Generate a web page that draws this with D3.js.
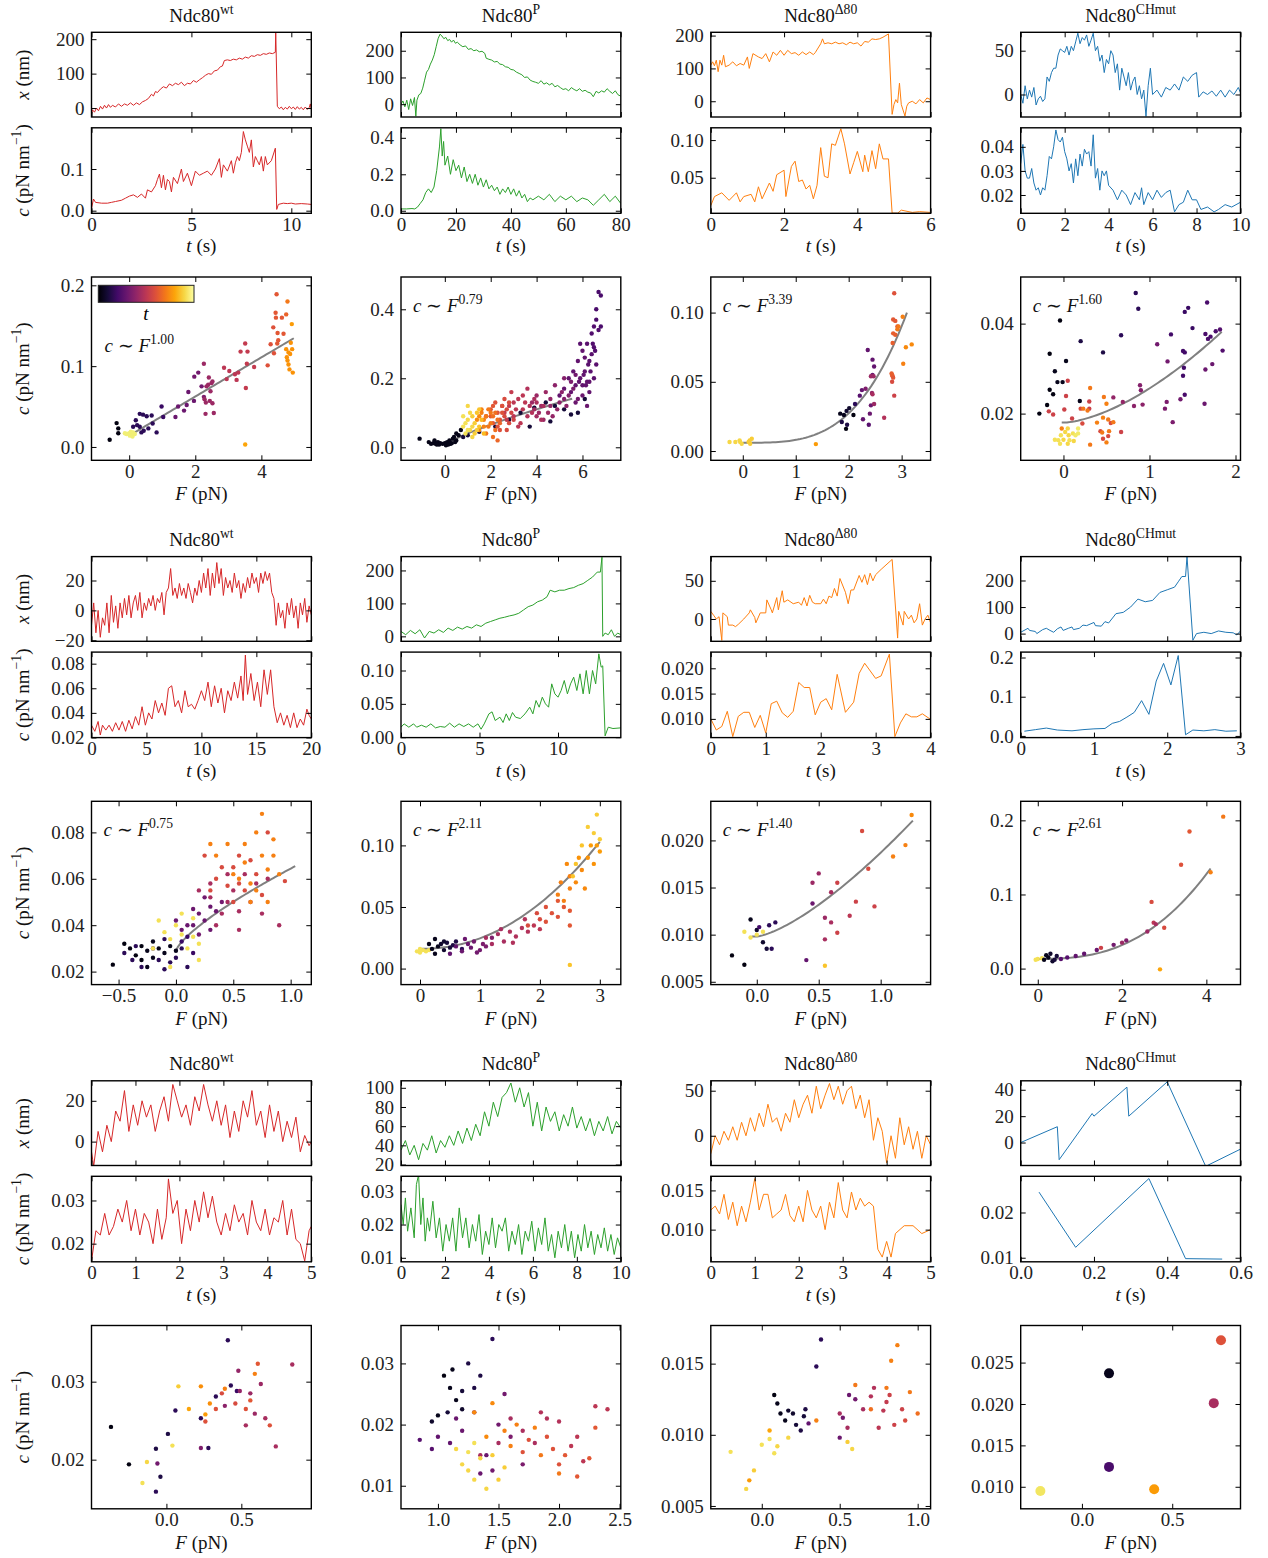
<!DOCTYPE html>
<html>
<head>
<meta charset="utf-8">
<script src="https://cdn.jsdelivr.net/npm/d3@7"></script>
<style>
body { margin: 0; background: #fff; }
svg { display: block; }
text { white-space: pre; }
</style>
</head>
<body>
<div id="wrapper"></div>
<script>
const FONT = "'Liberation Serif', 'Times New Roman', serif"
const titles = ['wt', 'P', '\u039480', 'CHmut']
const lineColors = ['#d62728', '#2ca02c', '#ff7f0e', '#1f77b4']

// ---------- block 1 traces: [t (s), value]
const b1wtX = [[0,-20],[0.05,-5],[0.15,-12],[0.25,0],[0.35,-8],[0.45,5],[0.55,-3],[0.65,8],[0.75,0],[0.85,10],[0.95,2],[1.05,8],[1.2,3],[1.35,12],[1.5,5],[1.65,12],[1.8,8],[1.95,15],[2.1,8],[2.25,15],[2.4,10],[2.55,18],[2.7,22],[2.85,28],[3.0,40],[3.1,35],[3.2,48],[3.3,45],[3.45,55],[3.6,62],[3.75,58],[3.9,70],[4.05,65],[4.2,72],[4.35,68],[4.5,75],[4.65,65],[4.8,72],[4.95,70],[5.1,80],[5.25,75],[5.4,82],[5.55,88],[5.7,95],[5.85,100],[6.0,98],[6.15,108],[6.3,110],[6.45,120],[6.55,122],[6.65,138],[6.8,140],[6.95,138],[7.1,142],[7.25,140],[7.4,145],[7.55,142],[7.7,148],[7.85,145],[8.0,152],[8.15,150],[8.3,155],[8.45,153],[8.6,158],[8.75,156],[8.9,160],[9.05,158],[9.2,162],[9.22,222],[9.3,5],[9.4,-2],[9.5,3],[9.6,-5],[9.7,2],[9.8,-3],[9.9,5],[10.0,-2],[10.1,3],[10.2,-4],[10.3,4],[10.4,-3],[10.5,2],[10.6,-5],[10.7,3],[10.8,-4],[10.9,2],[10.95,12],[11,-3]]
const b1wtC = [[0,0.005],[0.1,0.028],[0.2,0.02],[0.5,0.018],[0.8,0.018],[1.0,0.02],[1.2,0.022],[1.5,0.025],[1.7,0.03],[1.9,0.035],[2.1,0.038],[2.3,0.032],[2.5,0.04],[2.7,0.03],[2.8,0.05],[3.0,0.045],[3.2,0.06],[3.3,0.075],[3.4,0.088],[3.5,0.055],[3.6,0.085],[3.7,0.05],[3.8,0.075],[3.9,0.07],[4.0,0.045],[4.1,0.08],[4.3,0.065],[4.5,0.1],[4.6,0.07],[4.8,0.09],[5.0,0.06],[5.2,0.095],[5.4,0.085],[5.6,0.09],[5.8,0.095],[6.0,0.085],[6.2,0.1],[6.4,0.125],[6.5,0.08],[6.6,0.11],[6.8,0.095],[7.0,0.12],[7.1,0.09],[7.2,0.115],[7.3,0.13],[7.4,0.12],[7.5,0.14],[7.6,0.19],[7.7,0.17],[7.8,0.155],[7.9,0.14],[8.0,0.17],[8.1,0.105],[8.2,0.13],[8.3,0.12],[8.4,0.11],[8.5,0.13],[8.6,0.095],[8.7,0.13],[8.8,0.11],[9.0,0.12],[9.2,0.15],[9.27,0.003],[9.35,0.015],[9.6,0.018],[9.8,0.017],[10.0,0.018],[10.2,0.016],[10.5,0.017],[10.8,0.016],[11,0.015]]
const b1pX = [[0,0],[0.7,12],[1.4,-10],[2.1,15],[2.8,-20],[3.5,20],[4.2,-5],[4.9,25],[5.4,-45],[5.8,15],[6.5,35],[7.2,40],[7.9,60],[8.6,90],[9.3,120],[10,130],[10.7,150],[11.4,165],[12.1,185],[12.8,215],[13.5,245],[14.2,262],[14.9,255],[15.6,245],[16.3,250],[17,238],[17.7,242],[18.4,232],[19.1,240],[19.8,228],[20.5,232],[21.5,222],[22.5,215],[23.5,218],[24.5,205],[25.5,208],[26.5,200],[27.5,203],[28.5,196],[29.5,198],[30.5,190],[31,172],[32,168],[33,165],[34,158],[35,160],[36,150],[37,148],[38,140],[39,138],[40,130],[41,128],[42,120],[43,115],[44,110],[45,100],[46,102],[47,90],[48,85],[49,82],[50,78],[51,88],[52,75],[53,80],[54,72],[55,78],[56,65],[57,70],[58,62],[59,55],[60,58],[61,50],[62,62],[63,55],[64,50],[65,58],[66,48],[67,52],[68,45],[69,42],[70,28],[71,48],[72,42],[73,50],[74,45],[75,58],[76,48],[77,40],[78,50],[79,35],[80,30]]
const b1pC = [[0,0.01],[2,0.01],[4,0.012],[5,0.01],[6,0.02],[7,0.04],[8,0.06],[9,0.1],[10,0.12],[11,0.1],[12,0.13],[13,0.22],[14,0.35],[14.5,0.45],[15,0.3],[15.5,0.38],[16,0.25],[17,0.3],[18,0.2],[19,0.28],[20,0.22],[21,0.25],[22,0.18],[23,0.24],[24,0.16],[25,0.2],[26,0.15],[27,0.2],[28,0.14],[29,0.18],[30,0.13],[31,0.17],[32,0.12],[33,0.14],[34,0.11],[35,0.13],[36,0.09],[37,0.12],[38,0.1],[39,0.13],[40,0.09],[41,0.12],[42,0.08],[43,0.11],[44,0.07],[45,0.09],[46,0.05],[47,0.07],[48,0.06],[50,0.08],[52,0.06],[54,0.09],[56,0.05],[58,0.08],[60,0.06],[62,0.08],[64,0.05],[66,0.07],[68,0.06],[70,0.03],[72,0.06],[74,0.09],[76,0.05],[78,0.08],[80,0.04]]
const b1dX = [[0,110],[0.05,120],[0.1,108],[0.15,125],[0.2,90],[0.25,125],[0.3,110],[0.35,140],[0.4,105],[0.5,110],[0.6,120],[0.7,108],[0.8,115],[0.9,110],[1.0,135],[1.05,100],[1.15,145],[1.3,135],[1.4,130],[1.5,145],[1.6,120],[1.7,150],[1.8,140],[1.9,155],[2.0,140],[2.1,155],[2.2,145],[2.3,148],[2.4,140],[2.5,150],[2.6,142],[2.7,150],[2.8,142],[2.85,148],[3.0,175],[3.05,190],[3.1,175],[3.2,178],[3.3,175],[3.4,180],[3.5,175],[3.6,178],[3.7,172],[3.8,180],[3.9,175],[4.0,178],[4.1,168],[4.2,182],[4.3,180],[4.4,190],[4.5,188],[4.6,190],[4.7,195],[4.85,205],[4.95,-40],[5.0,-10],[5.05,5],[5.1,-5],[5.15,55],[5.2,-10],[5.3,-45],[5.35,-15],[5.4,-5],[5.5,0],[5.6,-8],[5.7,5],[5.8,-5],[5.9,10],[6.0,5]]
const b1dC = [[0,0.013],[0.1,0.025],[0.3,0.03],[0.5,0.02],[0.7,0.03],[0.8,0.018],[0.9,0.025],[1.1,0.028],[1.2,0.018],[1.3,0.038],[1.4,0.022],[1.6,0.043],[1.7,0.032],[1.8,0.054],[2.0,0.06],[2.05,0.025],[2.2,0.065],[2.3,0.072],[2.4,0.045],[2.5,0.047],[2.6,0.035],[2.7,0.04],[2.8,0.022],[2.9,0.04],[3.0,0.09],[3.1,0.052],[3.2,0.05],[3.3,0.095],[3.4,0.093],[3.55,0.115],[3.65,0.095],[3.8,0.055],[3.9,0.07],[4.0,0.085],[4.15,0.058],[4.2,0.08],[4.3,0.058],[4.4,0.086],[4.5,0.062],[4.6,0.095],[4.7,0.075],[4.85,0.075],[4.95,0.003],[5.1,0.003],[5.2,0.007],[5.5,0.004],[5.7,0.005],[6.0,0.004]]
const b1mX = [[0,0],[0.1,-10],[0.2,10],[0.3,-5],[0.4,5],[0.5,-3],[0.6,8],[0.7,-12],[0.8,-5],[0.9,-2],[1.0,-8],[1.1,-5],[1.2,20],[1.3,15],[1.4,25],[1.5,30],[1.6,30],[1.7,45],[1.8,52],[1.9,50],[2.0,48],[2.1,55],[2.2,45],[2.3,55],[2.4,50],[2.5,60],[2.6,70],[2.7,58],[2.8,65],[2.9,62],[3.0,68],[3.1,55],[3.2,62],[3.3,70],[3.4,50],[3.5,55],[3.6,38],[3.7,45],[3.8,25],[3.9,40],[4.0,35],[4.1,50],[4.2,45],[4.3,25],[4.4,35],[4.5,5],[4.6,30],[4.7,20],[4.8,10],[4.9,25],[5.0,5],[5.1,15],[5.2,20],[5.3,0],[5.4,10],[5.5,-5],[5.6,5],[5.7,-25],[5.8,10],[5.9,30],[6.0,0],[6.2,5],[6.4,-3],[6.6,8],[6.8,5],[7.0,12],[7.2,5],[7.4,20],[7.6,15],[7.8,22],[8.0,25],[8.1,-3],[8.3,3],[8.5,0],[8.7,4],[8.9,-2],[9.1,5],[9.3,-3],[9.5,5],[9.7,0],[9.9,8],[10,2]]
const b1mC = [[0,0.033],[0.1,0.041],[0.2,0.03],[0.3,0.027],[0.4,0.027],[0.5,0.031],[0.6,0.025],[0.7,0.022],[0.8,0.023],[0.9,0.02],[1.0,0.023],[1.1,0.022],[1.2,0.028],[1.3,0.036],[1.4,0.035],[1.5,0.04],[1.6,0.047],[1.7,0.043],[1.8,0.042],[1.9,0.044],[2.0,0.038],[2.1,0.035],[2.2,0.03],[2.3,0.033],[2.4,0.025],[2.5,0.035],[2.6,0.028],[2.7,0.037],[2.8,0.032],[2.9,0.039],[3.0,0.037],[3.1,0.038],[3.2,0.032],[3.3,0.045],[3.4,0.027],[3.5,0.031],[3.6,0.022],[3.7,0.03],[3.8,0.028],[3.9,0.03],[4.0,0.024],[4.2,0.022],[4.4,0.018],[4.6,0.022],[4.8,0.02],[5.0,0.016],[5.2,0.021],[5.4,0.018],[5.5,0.023],[5.6,0.016],[5.8,0.021],[6.0,0.018],[6.2,0.022],[6.4,0.019],[6.6,0.021],[6.8,0.022],[7.0,0.013],[7.2,0.016],[7.4,0.017],[7.6,0.022],[7.8,0.018],[8.0,0.018],[8.2,0.014],[8.5,0.015],[8.8,0.013],[9.0,0.014],[9.3,0.016],[9.6,0.015],[10,0.017]]

// ---------- block 2 traces
const b2wtX = [[0,-10],[0.2,5],[0.4,-15],[0.6,0],[0.8,-18],[1.0,-5],[1.2,-10],[1.4,5],[1.6,-15],[1.8,10],[2.0,-8],[2.2,3],[2.4,-12],[2.6,5],[2.8,-5],[3.0,8],[3.2,-3],[3.4,10],[3.6,-5],[3.8,5],[4.0,10],[4.2,0],[4.4,12],[4.6,-5],[4.8,5],[5.0,0],[5.2,8],[5.4,3],[5.6,10],[5.8,0],[6.0,8],[6.2,5],[6.4,12],[6.6,-3],[6.8,12],[7.0,15],[7.2,28],[7.4,10],[7.6,15],[7.8,8],[8.0,18],[8.2,10],[8.4,15],[8.6,8],[8.8,18],[9.0,12],[9.2,5],[9.4,15],[9.6,10],[9.8,20],[10.0,12],[10.2,25],[10.4,15],[10.6,28],[10.8,10],[11.0,25],[11.2,15],[11.4,32],[11.6,18],[11.8,28],[12.0,10],[12.2,22],[12.4,15],[12.6,20],[12.8,12],[13.0,25],[13.2,15],[13.4,20],[13.6,8],[13.8,18],[14.0,12],[14.2,22],[14.4,15],[14.6,25],[14.8,18],[15.0,22],[15.2,12],[15.4,25],[15.6,18],[15.8,26],[16.0,20],[16.2,25],[16.4,12],[16.6,8],[16.8,-10],[17.0,5],[17.2,-5],[17.4,0],[17.6,-12],[17.8,5],[18.0,-3],[18.2,8],[18.4,-5],[18.6,3],[18.8,-12],[19.0,5],[19.2,-3],[19.4,8],[19.6,-8],[19.8,3],[20,-3]]
const b2wtC = [[0,0.03],[0.3,0.025],[0.6,0.033],[0.8,0.022],[1.0,0.03],[1.3,0.026],[1.6,0.03],[1.9,0.025],[2.2,0.032],[2.5,0.026],[2.8,0.033],[3.1,0.025],[3.4,0.034],[3.7,0.027],[4.0,0.037],[4.3,0.03],[4.6,0.045],[4.9,0.03],[5.2,0.04],[5.5,0.035],[5.8,0.05],[6.1,0.04],[6.4,0.048],[6.7,0.038],[7.0,0.06],[7.3,0.062],[7.6,0.045],[7.9,0.05],[8.2,0.04],[8.5,0.058],[8.8,0.045],[9.1,0.047],[9.4,0.043],[9.7,0.05],[10.0,0.058],[10.3,0.05],[10.6,0.065],[10.9,0.045],[11.2,0.062],[11.5,0.048],[11.8,0.06],[12.1,0.04],[12.4,0.058],[12.7,0.05],[13.0,0.065],[13.3,0.052],[13.6,0.07],[13.8,0.05],[14.0,0.087],[14.2,0.055],[14.5,0.072],[14.8,0.05],[15.1,0.065],[15.4,0.045],[15.7,0.075],[16.0,0.055],[16.3,0.075],[16.6,0.045],[16.9,0.032],[17.2,0.04],[17.5,0.03],[17.8,0.038],[18.1,0.028],[18.4,0.04],[18.7,0.028],[19.0,0.035],[19.3,0.03],[19.6,0.043],[19.8,0.038],[20,0.035]]
const b2pX = [[0,15],[0.3,5],[0.6,18],[0.9,8],[1.2,20],[1.5,-5],[1.8,15],[2.1,10],[2.4,20],[2.7,12],[3.0,25],[3.3,18],[3.6,28],[3.9,22],[4.2,30],[4.5,25],[4.8,35],[5.1,30],[5.4,40],[5.7,45],[6.0,50],[6.3,55],[6.6,58],[6.9,62],[7.2,65],[7.5,70],[7.8,80],[8.1,90],[8.4,95],[8.7,105],[9.0,110],[9.3,120],[9.5,140],[9.8,135],[10.1,140],[10.4,140],[10.7,145],[11.0,148],[11.3,155],[11.6,160],[11.9,170],[12.2,180],[12.5,195],[12.7,195],[12.8,240],[12.85,0],[13.0,10],[13.2,5],[13.4,20],[13.6,0],[13.8,10],[14,5]]
const b2pC = [[0,0.015],[0.2,0.02],[0.5,0.015],[0.8,0.02],[1.0,0.015],[1.3,0.018],[1.6,0.015],[1.9,0.02],[2.2,0.014],[2.5,0.016],[2.8,0.015],[3.1,0.021],[3.4,0.015],[3.7,0.02],[4.0,0.016],[4.3,0.02],[4.6,0.015],[4.9,0.02],[5.1,0.012],[5.3,0.02],[5.6,0.035],[5.8,0.038],[6.0,0.025],[6.3,0.03],[6.5,0.022],[6.7,0.035],[6.9,0.025],[7.1,0.037],[7.3,0.03],[7.6,0.028],[7.9,0.035],[8.2,0.045],[8.4,0.035],[8.6,0.055],[8.8,0.045],[9.0,0.06],[9.2,0.05],[9.4,0.045],[9.6,0.08],[9.8,0.065],[10.0,0.06],[10.2,0.07],[10.4,0.085],[10.6,0.065],[10.8,0.08],[11.0,0.09],[11.2,0.07],[11.4,0.095],[11.6,0.065],[11.8,0.1],[12.0,0.065],[12.2,0.1],[12.4,0.08],[12.6,0.125],[12.75,0.105],[12.85,0.107],[13.0,0.002],[13.2,0.015],[13.5,0.013],[14,0.014]]
const b2dX = [[0,10],[0.05,5],[0.1,0],[0.15,3],[0.2,-28],[0.22,8],[0.3,3],[0.32,-8],[0.4,-8],[0.45,-10],[0.5,-7],[0.6,0],[0.7,8],[0.72,12],[0.8,2],[0.82,-5],[0.9,8],[1.0,8],[1.02,25],[1.1,12],[1.12,8],[1.2,28],[1.23,12],[1.3,37],[1.33,22],[1.4,25],[1.5,20],[1.6,22],[1.65,18],[1.7,28],[1.75,17],[1.8,31],[1.85,22],[1.9,20],[2.0,20],[2.05,26],[2.1,20],[2.15,30],[2.2,28],[2.25,40],[2.3,30],[2.35,53],[2.45,35],[2.5,20],[2.55,38],[2.6,38],[2.7,57],[2.75,48],[2.8,58],[2.85,45],[2.9,60],[2.95,50],[3.0,58],[3.1,65],[3.3,78],[3.4,-25],[3.42,10],[3.5,-8],[3.52,10],[3.6,0],[3.65,5],[3.7,-5],[3.75,0],[3.8,20],[3.85,-8],[3.9,0],[3.95,5],[4.0,-5]]
const b2dC = [[0,0.010],[0.1,0.0078],[0.2,0.0085],[0.3,0.0115],[0.4,0.0065],[0.5,0.0105],[0.6,0.0113],[0.7,0.0113],[0.8,0.0083],[0.9,0.0107],[1.0,0.0072],[1.1,0.013],[1.2,0.0135],[1.3,0.0112],[1.4,0.0103],[1.5,0.0115],[1.6,0.0172],[1.7,0.0162],[1.8,0.0162],[1.9,0.0108],[2.0,0.0133],[2.1,0.014],[2.2,0.0118],[2.3,0.0188],[2.45,0.0113],[2.6,0.0133],[2.7,0.019],[2.8,0.021],[3.0,0.018],[3.1,0.0185],[3.25,0.0228],[3.35,0.0065],[3.45,0.0092],[3.55,0.011],[3.65,0.0104],[3.75,0.0104],[3.85,0.011],[4.0,0.0099]]
const b2mX = [[0,5],[0.1,20],[0.12,12],[0.2,8],[0.22,0],[0.3,15],[0.35,20],[0.4,12],[0.45,5],[0.5,18],[0.55,25],[0.58,12],[0.65,20],[0.7,25],[0.72,15],[0.8,20],[0.85,32],[0.9,30],[1.0,42],[1.02,30],[1.1,28],[1.15,45],[1.2,40],[1.3,75],[1.4,80],[1.5,100],[1.6,130],[1.7,120],[1.8,125],[1.9,155],[2.0,165],[2.1,175],[2.15,195],[2.2,215],[2.25,215],[2.27,290],[2.35,-25],[2.4,0],[2.5,5],[2.6,0],[2.7,10],[2.8,5],[2.9,3],[2.95,-5],[3.0,10]]
const b2mC = [[0.05,0.012],[0.2,0.016],[0.35,0.02],[0.5,0.015],[0.7,0.013],[0.85,0.016],[1.0,0.018],[1.15,0.019],[1.25,0.032],[1.35,0.037],[1.45,0.048],[1.55,0.06],[1.65,0.09],[1.75,0.055],[1.85,0.14],[1.95,0.185],[2.05,0.13],[2.15,0.205],[2.25,0.003],[2.35,0.015],[2.5,0.013],[2.65,0.016],[2.8,0.012],[2.95,0.013]]

// ---------- block 3 traces
const b3wtX = [[0,-5],[0.05,-12],[0.15,5],[0.25,-5],[0.35,8],[0.45,0],[0.55,15],[0.65,10],[0.75,25],[0.85,5],[0.95,18],[1.05,8],[1.15,20],[1.25,12],[1.35,18],[1.45,5],[1.55,15],[1.65,22],[1.75,10],[1.85,28],[1.95,20],[2.05,12],[2.15,18],[2.25,8],[2.35,22],[2.45,15],[2.55,28],[2.65,18],[2.75,10],[2.85,20],[2.95,8],[3.05,18],[3.15,2],[3.25,15],[3.35,5],[3.45,20],[3.55,12],[3.65,25],[3.75,8],[3.85,15],[3.95,2],[4.05,18],[4.15,5],[4.25,15],[4.35,0],[4.45,10],[4.55,2],[4.65,12],[4.75,-5],[4.85,3],[4.95,-2],[5.0,0]]
const b3wtC = [[0,0.016],[0.1,0.023],[0.2,0.022],[0.3,0.027],[0.4,0.022],[0.5,0.024],[0.6,0.028],[0.7,0.025],[0.8,0.03],[0.9,0.023],[1.0,0.028],[1.1,0.022],[1.2,0.027],[1.3,0.025],[1.4,0.02],[1.5,0.028],[1.6,0.021],[1.7,0.026],[1.75,0.035],[1.85,0.027],[1.95,0.03],[2.05,0.02],[2.15,0.028],[2.25,0.023],[2.35,0.03],[2.45,0.025],[2.55,0.032],[2.65,0.026],[2.75,0.031],[2.85,0.025],[2.95,0.022],[3.05,0.027],[3.15,0.023],[3.25,0.029],[3.35,0.025],[3.45,0.027],[3.55,0.022],[3.65,0.03],[3.75,0.025],[3.85,0.023],[3.95,0.028],[4.05,0.022],[4.15,0.026],[4.25,0.025],[4.35,0.03],[4.45,0.022],[4.55,0.028],[4.65,0.021],[4.75,0.02],[4.85,0.016],[4.95,0.023],[5.0,0.024]]
const b3pX = [[0,35],[0.2,45],[0.4,30],[0.6,40],[0.8,25],[1.0,42],[1.2,35],[1.4,50],[1.6,32],[1.8,45],[2.0,38],[2.2,50],[2.4,40],[2.6,55],[2.8,42],[3.0,58],[3.2,45],[3.4,62],[3.6,50],[3.8,75],[4.0,60],[4.2,85],[4.4,70],[4.6,90],[4.8,95],[5.0,105],[5.2,85],[5.4,100],[5.6,80],[5.8,95],[6.0,60],[6.2,85],[6.4,55],[6.6,80],[6.8,65],[7.0,75],[7.2,55],[7.4,72],[7.6,60],[7.8,80],[8.0,58],[8.2,70],[8.4,55],[8.6,68],[8.8,50],[9.0,65],[9.2,55],[9.4,70],[9.6,52],[9.8,65],[10,58]]
const b3pC = [[0,0.026],[0.1,0.02],[0.2,0.028],[0.3,0.018],[0.45,0.025],[0.6,0.016],[0.7,0.032],[0.8,0.035],[0.9,0.02],[1.0,0.028],[1.1,0.015],[1.2,0.022],[1.3,0.018],[1.45,0.027],[1.6,0.016],[1.75,0.022],[1.9,0.012],[2.05,0.02],[2.2,0.015],[2.35,0.022],[2.5,0.012],[2.65,0.025],[2.8,0.016],[2.95,0.022],[3.1,0.013],[3.25,0.02],[3.4,0.015],[3.55,0.023],[3.7,0.011],[3.85,0.018],[4.0,0.014],[4.15,0.022],[4.3,0.013],[4.45,0.02],[4.6,0.018],[4.75,0.022],[4.9,0.012],[5.05,0.018],[5.2,0.014],[5.35,0.02],[5.5,0.011],[5.65,0.018],[5.8,0.015],[5.95,0.021],[6.1,0.012],[6.25,0.019],[6.4,0.014],[6.55,0.022],[6.7,0.012],[6.85,0.017],[7.0,0.01],[7.15,0.018],[7.3,0.013],[7.45,0.02],[7.6,0.012],[7.75,0.018],[7.9,0.01],[8.05,0.017],[8.2,0.012],[8.35,0.02],[8.5,0.013],[8.65,0.018],[8.8,0.011],[8.95,0.017],[9.1,0.013],[9.25,0.019],[9.4,0.012],[9.55,0.017],[9.7,0.011],[9.85,0.016],[10,0.013]]
const b3dX = [[0,-20],[0.1,0],[0.2,-10],[0.3,5],[0.4,-5],[0.5,10],[0.6,-5],[0.7,15],[0.8,0],[0.9,20],[1.0,5],[1.1,25],[1.2,10],[1.3,35],[1.4,15],[1.5,20],[1.6,5],[1.7,25],[1.8,15],[1.9,40],[2.0,20],[2.1,35],[2.2,45],[2.3,25],[2.4,55],[2.5,30],[2.6,45],[2.7,58],[2.8,40],[2.9,55],[3.0,35],[3.1,50],[3.2,55],[3.3,30],[3.4,45],[3.5,20],[3.6,40],[3.7,-5],[3.8,20],[3.9,5],[4.0,-30],[4.1,0],[4.2,-25],[4.3,20],[4.4,-10],[4.5,10],[4.6,-15],[4.7,5],[4.8,-25],[4.9,0],[5.0,-10]]
const b3dC = [[0,0.0125],[0.1,0.013],[0.2,0.012],[0.3,0.0145],[0.4,0.0113],[0.5,0.0135],[0.6,0.0105],[0.7,0.013],[0.8,0.011],[0.9,0.0135],[1.0,0.0165],[1.1,0.0125],[1.2,0.0145],[1.3,0.0145],[1.4,0.0115],[1.5,0.012],[1.6,0.0125],[1.7,0.0145],[1.8,0.0118],[1.9,0.011],[2.0,0.013],[2.1,0.011],[2.2,0.015],[2.3,0.0125],[2.4,0.0115],[2.5,0.013],[2.6,0.01],[2.7,0.0135],[2.8,0.0115],[2.9,0.016],[3.0,0.0125],[3.1,0.0115],[3.2,0.0148],[3.3,0.0125],[3.4,0.014],[3.5,0.013],[3.6,0.0135],[3.7,0.013],[3.8,0.0075],[3.9,0.0065],[4.0,0.0085],[4.1,0.0065],[4.2,0.0095],[4.4,0.0105],[4.6,0.0105],[4.8,0.0095],[5.0,0.01]]
const b3mX = [[0,0],[0.1,12],[0.105,-13],[0.195,22],[0.2,20],[0.29,42],[0.295,20],[0.4,46],[0.505,-18],[0.6,-5]]
const b3mC = [[0.05,0.0245],[0.15,0.0123],[0.35,0.0275],[0.45,0.0098],[0.55,0.0097]]

// ---------- scatter data: [F (pN), c (pN/nm), t (fraction of trace)]
const b1wtS = [[-0.59,0.009,0.03],[-0.38,0.0295,0.03],[-0.33,0.023,0.03],[-0.33,0.017,0.03],[0.12,0.025,0.15],[0.2,0.033,0.15],[0.32,0.041,0.15],[0.42,0.04,0.15],[0.53,0.038,0.15],[0.68,0.039,0.15],[0.32,0.025,0.15],[0.44,0.02,0.15],[0.58,0.023,0.15],[0.71,0.029,0.15],[0.83,0.018,0.15],[0.98,0.05,0.18],[1.03,0.037,0.18],[0.24,0.027,0.15],[0.37,0.018,0.15],[1.4,0.037,0.3],[1.48,0.05,0.3],[1.66,0.045,0.3],[1.74,0.052,0.3],[1.79,0.068,0.3],[1.96,0.057,0.3],[1.97,0.087,0.32],[2.09,0.092,0.32],[2.19,0.075,0.32],[2.26,0.062,0.35],[2.26,0.103,0.42],[2.28,0.059,0.42],[2.32,0.055,0.42],[2.34,0.075,0.42],[2.39,0.077,0.42],[2.41,0.086,0.42],[2.44,0.057,0.42],[2.46,0.069,0.42],[2.49,0.079,0.42],[2.52,0.081,0.42],[2.31,0.041,0.42],[2.52,0.054,0.42],[2.56,0.042,0.42],[2.87,0.098,0.5],[2.95,0.084,0.5],[3.03,0.094,0.5],[3.2,0.09,0.5],[3.25,0.083,0.5],[3.3,0.092,0.5],[3.37,0.118,0.52],[3.51,0.128,0.52],[3.53,0.073,0.52],[3.58,0.118,0.52],[3.56,0.103,0.52],[3.78,0.099,0.52],[4.19,0.101,0.6],[4.28,0.127,0.6],[4.36,0.148,0.6],[4.38,0.116,0.6],[4.43,0.166,0.62],[4.44,0.16,0.62],[4.46,0.189,0.62],[4.48,0.128,0.62],[4.49,0.141,0.62],[4.51,0.132,0.62],[4.62,0.16,0.62],[4.67,0.14,0.62],[4.75,0.164,0.65],[4.79,0.18,0.7],[4.75,0.121,0.76],[4.79,0.107,0.76],[4.82,0.102,0.76],[4.85,0.096,0.76],[4.89,0.129,0.76],[4.92,0.152,0.78],[4.93,0.121,0.76],[4.95,0.092,0.76],[4.82,0.117,0.76],[4.77,0.111,0.76],[4.87,0.115,0.76],[3.51,0.003,0.8],[-0.08,0.016,0.95],[0.0,0.017,0.95],[0.07,0.015,0.95],[0.12,0.018,0.95],[0.17,0.016,0.95],[0.02,0.014,0.95],[-0.13,0.017,0.95],[0.1,0.013,0.95],[0.05,0.019,0.95]]
const b1pS = [[-1.1,0.025,0.04],[-0.7,0.015,0.04],[-0.6,0.01,0.04],[-0.5,0.012,0.04],[-0.45,0.02,0.04],[-0.4,0.01,0.04],[-0.3,0.015,0.04],[-0.25,0.008,0.04],[-0.2,0.012,0.04],[-0.1,0.01,0.04],[0.0,0.012,0.04],[0.05,0.006,0.04],[0.1,0.015,0.04],[0.2,0.02,0.04],[0.25,0.01,0.04],[0.3,0.012,0.04],[0.35,0.025,0.04],[0.4,0.03,0.04],[0.5,0.02,0.04],[0.5,0.04,0.04],[0.6,0.035,0.04],[0.7,0.05,0.04],[0.45,0.015,0.04],[-0.35,0.008,0.04],[0.15,0.008,0.04],[0.8,0.03,0.1],[1.0,0.035,0.1],[2.2,0.06,0.1],[2.8,0.08,0.1],[3.3,0.1,0.1],[3.9,0.115,0.1],[4.4,0.13,0.1],[4.8,0.12,0.1],[5.2,0.11,0.1],[5.8,0.1,0.1],[6.1,0.14,0.1],[3.7,0.06,0.1],[1.5,0.045,0.1],[4.6,0.075,0.1],[5.5,0.095,0.1],[5.0,0.15,0.28],[5.2,0.17,0.28],[5.4,0.2,0.28],[5.5,0.16,0.28],[5.6,0.22,0.28],[5.7,0.18,0.28],[5.8,0.25,0.28],[5.9,0.2,0.28],[6.0,0.18,0.28],[6.0,0.28,0.28],[6.1,0.22,0.28],[6.2,0.3,0.26],[6.2,0.19,0.28],[6.3,0.25,0.26],[6.3,0.16,0.28],[6.4,0.33,0.24],[6.4,0.27,0.26],[6.5,0.29,0.24],[6.5,0.35,0.24],[6.6,0.24,0.26],[6.6,0.4,0.22],[6.7,0.45,0.22],[6.7,0.34,0.24],[6.8,0.44,0.22],[6.6,0.37,0.22],[6.8,0.35,0.22],[6.1,0.26,0.28],[5.9,0.3,0.26],[6.0,0.15,0.3],[6.3,0.19,0.28],[5.7,0.13,0.3],[6.2,0.12,0.3],[6.5,0.2,0.26],[6.45,0.3,0.24],[6.55,0.28,0.24],[6.35,0.22,0.26],[5.85,0.19,0.28],[6.05,0.21,0.28],[6.25,0.24,0.26],[6.15,0.18,0.28],[3.8,0.13,0.42],[4.0,0.15,0.42],[4.2,0.12,0.42],[4.4,0.16,0.42],[4.6,0.14,0.4],[4.8,0.18,0.38],[5.0,0.13,0.38],[5.2,0.2,0.36],[5.4,0.15,0.36],[5.6,0.17,0.34],[4.5,0.1,0.42],[4.9,0.11,0.4],[5.3,0.12,0.38],[5.5,0.19,0.34],[4.1,0.1,0.42],[4.3,0.08,0.42],[4.7,0.09,0.4],[5.1,0.16,0.38],[5.7,0.21,0.32],[5.8,0.14,0.32],[4.6,0.12,0.4],[4.0,0.09,0.44],[3.9,0.11,0.44],[5.2,0.14,0.36],[2.6,0.1,0.52],[2.8,0.12,0.52],[3.0,0.09,0.5],[3.2,0.14,0.5],[3.4,0.11,0.5],[3.6,0.17,0.48],[3.8,0.1,0.48],[4.0,0.13,0.46],[4.2,0.08,0.46],[3.3,0.07,0.5],[2.9,0.16,0.52],[3.5,0.13,0.5],[3.7,0.12,0.48],[3.1,0.11,0.5],[2.7,0.08,0.52],[3.9,0.14,0.46],[4.3,0.12,0.46],[3.6,0.09,0.48],[3.4,0.15,0.5],[3.0,0.13,0.5],[3.2,0.06,0.5],[2.5,0.12,0.52],[1.8,0.09,0.62],[2.0,0.11,0.62],[2.1,0.07,0.62],[2.3,0.1,0.6],[2.4,0.08,0.6],[2.5,0.12,0.6],[2.6,0.09,0.58],[2.7,0.11,0.58],[2.8,0.07,0.58],[2.9,0.1,0.56],[3.0,0.08,0.56],[2.2,0.13,0.6],[2.4,0.05,0.6],[2.6,0.14,0.58],[2.0,0.09,0.62],[2.3,0.06,0.6],[2.8,0.13,0.58],[2.1,0.12,0.62],[2.7,0.05,0.58],[2.5,0.1,0.6],[1.4,0.08,0.74],[1.6,0.1,0.72],[1.7,0.06,0.72],[1.8,0.09,0.7],[1.9,0.11,0.7],[2.0,0.07,0.7],[2.1,0.09,0.68],[2.2,0.05,0.68],[2.3,0.08,0.68],[1.5,0.05,0.74],[1.6,0.11,0.72],[1.8,0.04,0.7],[2.0,0.1,0.7],[2.2,0.1,0.68],[2.4,0.07,0.66],[1.7,0.08,0.72],[1.9,0.06,0.7],[2.1,0.03,0.68],[2.3,0.02,0.66],[1.5,0.09,0.74],[0.8,0.06,0.92],[0.9,0.04,0.92],[1.0,0.08,0.9],[1.0,0.12,0.9],[1.1,0.05,0.9],[1.2,0.09,0.88],[1.2,0.03,0.9],[1.3,0.07,0.88],[1.4,0.1,0.86],[1.4,0.05,0.88],[1.5,0.06,0.86],[1.6,0.08,0.84],[1.1,0.1,0.9],[0.9,0.07,0.92],[1.3,0.04,0.88],[1.5,0.11,0.86],[1.2,0.06,0.9],[1.0,0.05,0.92],[1.7,0.04,0.84],[0.8,0.09,0.92]]
const b1dS = [[1.84,0.027,0.05],[1.91,0.026,0.05],[1.96,0.029,0.08],[2.01,0.031,0.08],[1.95,0.016,0.03],[1.97,0.019,0.12],[2.09,0.026,0.03],[1.87,0.021,0.12],[2.12,0.034,0.15],[2.21,0.04,0.25],[2.25,0.044,0.28],[2.27,0.023,0.28],[2.36,0.073,0.28],[2.38,0.019,0.25],[2.4,0.027,0.3],[2.42,0.033,0.3],[2.45,0.066,0.28],[2.48,0.061,0.28],[2.45,0.055,0.3],[2.32,0.045,0.35],[2.44,0.042,0.4],[2.48,0.034,0.42],[2.42,0.054,0.42],[2.47,0.054,0.42],[2.45,0.041,0.45],[2.67,0.024,0.48],[2.86,0.04,0.55],[2.82,0.05,0.58],[2.83,0.054,0.58],[2.86,0.114,0.6],[2.84,0.095,0.62],[2.88,0.094,0.62],[2.84,0.085,0.64],[2.88,0.084,0.64],[2.83,0.078,0.64],[2.81,0.056,0.64],[2.82,0.055,0.64],[2.84,0.053,0.62],[2.92,0.09,0.62],[3.02,0.097,0.72],[3.08,0.075,0.74],[3.19,0.077,0.74],[3.03,0.063,0.72],[2.92,0.088,0.7],[2.94,0.09,0.7],[1.38,0.005,0.78],[-0.25,0.0065,0.9],[-0.14,0.0065,0.9],[-0.06,0.0077,0.9],[-0.05,0.0065,0.9],[-0.02,0.0053,0.9],[0.11,0.0065,0.88],[0.14,0.0053,0.88],[0.17,0.0089,0.88],[0.13,0.0077,0.88]]
const b1mS = [[-0.28,0.02,0.03],[-0.19,0.0219,0.03],[-0.16,0.0333,0.03],[-0.16,0.0253,0.03],[-0.12,0.0243,0.03],[-0.1,0.0294,0.05],[-0.07,0.027,0.05],[-0.01,0.027,0.05],[-0.04,0.0407,0.03],[0.03,0.0317,0.05],[0.19,0.0228,0.05],[0.2,0.0361,0.12],[0.46,0.0336,0.12],[0.67,0.0374,0.15],[0.84,0.0468,0.15],[0.87,0.0433,0.15],[1.41,0.0426,0.18],[1.45,0.0435,0.18],[1.5,0.039,0.18],[1.39,0.0339,0.2],[1.41,0.0336,0.2],[1.39,0.0284,0.2],[1.4,0.0302,0.2],[1.41,0.0242,0.22],[1.25,0.0376,0.2],[1.67,0.0447,0.22],[1.65,0.0377,0.22],[1.68,0.0366,0.22],[1.71,0.0371,0.22],[1.77,0.0383,0.22],[1.82,0.0387,0.24],[1.85,0.034,0.24],[1.09,0.0354,0.32],[1.21,0.0316,0.32],[1.65,0.0298,0.3],[1.73,0.031,0.3],[1.36,0.0232,0.32],[1.2,0.0226,0.34],[1.18,0.0211,0.34],[1.27,0.0181,0.34],[1.64,0.0222,0.3],[0.89,0.0263,0.36],[0.9,0.0252,0.36],[0.82,0.0217,0.38],[0.92,0.022,0.38],[0.69,0.0226,0.4],[0.58,0.0236,0.4],[0.05,0.0273,0.55],[0.03,0.0239,0.55],[0.01,0.0209,0.55],[-0.17,0.0205,0.55],[-0.12,0.0198,0.55],[0.1,0.0189,0.55],[0.22,0.0178,0.58],[0.3,0.0227,0.55],[0.3,0.0211,0.55],[0.2,0.0211,0.58],[0.43,0.0161,0.58],[0.46,0.0144,0.58],[0.52,0.015,0.58],[0.55,0.0179,0.58],[0.67,0.0159,0.55],[0.31,0.0257,0.7],[0.47,0.0237,0.7],[0.5,0.0222,0.72],[0.46,0.0191,0.72],[0.52,0.0187,0.7],[0.58,0.0181,0.7],[0.39,0.018,0.72],[0.28,0.0207,0.7],[0.31,0.0131,0.7],[0.5,0.0136,0.72],[0.53,0.0161,0.7],[0.23,0.0211,0.7],[-0.02,0.0167,0.72],[0.45,0.0158,0.7],[-0.1,0.0142,0.92],[-0.06,0.0141,0.92],[-0.03,0.0152,0.92],[0.0,0.0142,0.9],[0.02,0.0159,0.9],[0.05,0.0167,0.9],[0.05,0.0133,0.9],[0.07,0.0141,0.92],[0.11,0.0156,0.92],[0.14,0.0152,0.94],[0.17,0.0156,0.94],[0.17,0.0167,0.94],[0.12,0.0139,0.9],[0.06,0.0152,0.9],[-0.04,0.0133,0.92]]

const b2wtS = [[-0.55,0.023,0.03],[-0.45,0.032,0.03],[-0.4,0.03,0.03],[-0.35,0.027,0.03],[-0.3,0.025,0.03],[-0.3,0.031,0.03],[-0.25,0.029,0.05],[-0.2,0.026,0.05],[-0.2,0.033,0.05],[-0.15,0.03,0.05],[-0.1,0.028,0.05],[-0.05,0.031,0.05],[0.0,0.029,0.05],[-0.25,0.022,0.05],[-0.45,0.028,0.15],[-0.35,0.031,0.15],[-0.3,0.022,0.15],[-0.2,0.03,0.15],[-0.15,0.025,0.15],[-0.1,0.034,0.15],[-0.05,0.024,0.15],[0.0,0.026,0.15],[0.05,0.03,0.15],[0.1,0.022,0.15],[-0.1,0.021,0.15],[0.05,0.033,0.18],[0.1,0.035,0.18],[0.15,0.028,0.18],[-0.38,0.025,0.15],[0.05,0.038,0.3],[0.1,0.04,0.3],[0.15,0.04,0.3],[0.2,0.045,0.3],[0.25,0.042,0.3],[0.3,0.048,0.3],[0.3,0.038,0.3],[0.35,0.046,0.3],[0.15,0.047,0.3],[0.0,0.042,0.3],[0.4,0.05,0.32],[0.2,0.036,0.32],[0.25,0.052,0.32],[0.2,0.055,0.45],[0.3,0.052,0.45],[0.35,0.04,0.45],[0.4,0.045,0.45],[0.45,0.05,0.45],[0.5,0.055,0.45],[0.55,0.046,0.45],[0.6,0.062,0.45],[0.65,0.05,0.45],[0.7,0.058,0.45],[0.75,0.045,0.45],[0.8,0.06,0.45],[0.45,0.062,0.45],[0.3,0.058,0.45],[0.55,0.038,0.45],[0.9,0.04,0.45],[0.3,0.055,0.58],[0.35,0.06,0.58],[0.45,0.057,0.58],[0.5,0.065,0.58],[0.55,0.058,0.58],[0.6,0.055,0.58],[0.65,0.068,0.58],[0.7,0.062,0.58],[0.4,0.065,0.58],[0.55,0.07,0.58],[0.75,0.053,0.58],[0.8,0.08,0.58],[0.5,0.05,0.58],[0.25,0.07,0.58],[0.95,0.059,0.58],[0.3,0.075,0.72],[0.35,0.07,0.72],[0.45,0.075,0.72],[0.5,0.062,0.72],[0.55,0.06,0.72],[0.6,0.067,0.72],[0.65,0.058,0.72],[0.7,0.055,0.72],[0.75,0.07,0.72],[0.8,0.064,0.72],[0.85,0.07,0.72],[0.9,0.062,0.72],[0.75,0.088,0.72],[0.7,0.08,0.72],[0.6,0.075,0.72],[0.65,0.05,0.72],[0.8,0.05,0.72],[0.85,0.077,0.72],[-0.2,0.03,0.92],[-0.15,0.042,0.92],[-0.05,0.034,0.92],[0.0,0.04,0.92],[0.05,0.036,0.92],[0.1,0.03,0.92],[0.15,0.043,0.92],[0.2,0.032,0.92],[0.05,0.045,0.92],[-0.1,0.037,0.92],[0.2,0.025,0.92],[-0.05,0.022,0.92],[0.15,0.035,0.92]]
const b2pS = [[-0.05,0.014,0.92],[0.0,0.013,0.92],[0.05,0.015,0.92],[0.1,0.014,0.92],[0.15,0.015,0.92],[0.0,0.016,0.92],[0.15,0.02,0.05],[0.2,0.016,0.05],[0.25,0.024,0.05],[0.3,0.018,0.05],[0.35,0.02,0.08],[0.4,0.015,0.08],[0.45,0.021,0.1],[0.5,0.017,0.1],[0.55,0.019,0.12],[0.6,0.022,0.12],[0.7,0.016,0.15],[0.25,0.012,0.05],[0.4,0.022,0.08],[0.5,0.012,0.28],[0.6,0.018,0.28],[0.7,0.014,0.3],[0.8,0.02,0.3],[0.85,0.017,0.3],[0.9,0.022,0.32],[1.0,0.015,0.32],[1.05,0.02,0.34],[1.1,0.018,0.34],[1.2,0.025,0.35],[0.75,0.024,0.3],[0.95,0.013,0.32],[1.1,0.025,0.45],[1.2,0.02,0.45],[1.3,0.028,0.45],[1.4,0.022,0.45],[1.5,0.03,0.47],[1.6,0.026,0.47],[1.7,0.033,0.48],[1.8,0.03,0.48],[1.9,0.035,0.5],[1.35,0.032,0.45],[1.55,0.021,0.47],[1.75,0.04,0.48],[2.0,0.032,0.5],[1.8,0.035,0.58],[2.0,0.04,0.58],[2.1,0.038,0.6],[2.2,0.045,0.6],[2.3,0.042,0.6],[2.4,0.05,0.62],[2.5,0.047,0.62],[2.1,0.05,0.6],[2.3,0.055,0.62],[1.95,0.045,0.58],[2.5,0.035,0.62],[2.3,0.06,0.72],[2.4,0.055,0.72],[2.5,0.065,0.72],[2.5,0.075,0.72],[2.6,0.07,0.74],[2.7,0.08,0.74],[2.75,0.065,0.74],[2.8,0.09,0.76],[2.9,0.085,0.76],[2.95,0.1,0.78],[3.0,0.095,0.78],[2.65,0.09,0.76],[2.45,0.085,0.74],[2.85,0.1,0.78],[2.35,0.07,0.72],[2.55,0.075,0.86],[2.7,0.1,0.86],[2.9,0.11,0.88],[2.95,0.125,0.88],[3.0,0.105,0.88],[2.8,0.115,0.88],[2.6,0.085,0.86],[2.5,0.003,0.86]]
const b2dS = [[-0.2,0.0078,0.03],[-0.1,0.0068,0.03],[-0.05,0.0116,0.05],[0.0,0.0105,0.08],[0.05,0.0092,0.08],[0.08,0.0085,0.1],[0.1,0.011,0.15],[0.15,0.0113,0.15],[0.02,0.0108,0.2],[0.12,0.0085,0.15],[0.4,0.0073,0.28],[0.45,0.0133,0.3],[0.45,0.0155,0.42],[0.5,0.0165,0.42],[0.55,0.0118,0.42],[0.6,0.0113,0.45],[0.55,0.0095,0.45],[0.6,0.0145,0.45],[0.65,0.0155,0.55],[0.8,0.0135,0.55],[0.85,0.021,0.58],[0.95,0.013,0.55],[0.65,0.0102,0.55],[0.9,0.017,0.58],[0.75,0.012,0.5],[1.1,0.0183,0.72],[1.2,0.0195,0.72],[1.25,0.0227,0.74],[0.55,0.0067,0.86],[-0.1,0.0103,0.92],[-0.05,0.0097,0.92],[0.0,0.01,0.92],[0.05,0.0103,0.92]]
const b2mS = [[-0.05,0.012,0.92],[0.0,0.013,0.92],[0.1,0.014,0.92],[0.15,0.012,0.05],[0.25,0.015,0.05],[0.3,0.02,0.08],[0.35,0.01,0.08],[0.4,0.012,0.1],[0.45,0.017,0.1],[0.2,0.018,0.05],[0.55,0.013,0.25],[0.7,0.015,0.25],[0.9,0.017,0.28],[1.1,0.02,0.28],[1.4,0.025,0.3],[1.5,0.028,0.55],[1.8,0.032,0.32],[2.0,0.035,0.42],[2.1,0.038,0.35],[2.6,0.05,0.42],[2.75,0.062,0.5],[2.8,0.06,0.45],[2.7,0.09,0.58],[3.0,0.055,0.58],[3.4,0.14,0.6],[3.6,0.185,0.62],[2.9,-0.001,0.8],[4.1,0.13,0.72],[4.4,0.205,0.7]]

const b3wtS = [[-0.37,0.0242,0.03],[-0.25,0.0194,0.03],[-0.07,0.0214,0.12],[-0.04,0.0178,0.12],[-0.07,0.0159,0.15],[0.01,0.0233,0.12],[0.06,0.0263,0.15],[0.23,0.0253,0.15],[0.28,0.0215,0.15],[0.33,0.0281,0.15],[0.41,0.0353,0.15],[0.43,0.0295,0.15],[0.47,0.0288,0.18],[-0.06,0.0195,0.32],[0.23,0.0215,0.35],[0.39,0.0269,0.38],[0.48,0.0314,0.4],[0.49,0.0288,0.4],[0.56,0.0285,0.42],[0.63,0.0297,0.42],[0.59,0.0259,0.42],[0.53,0.0244,0.45],[0.66,0.0253,0.45],[0.73,0.0217,0.45],[0.84,0.0322,0.45],[0.46,0.0272,0.58],[0.53,0.0265,0.6],[0.61,0.0323,0.62],[0.69,0.0244,0.6],[0.37,0.0285,0.58],[0.56,0.0276,0.62],[0.33,0.0265,0.6],[0.26,0.0249,0.6],[0.08,0.0294,0.88],[0.15,0.0265,0.8],[0.23,0.0294,0.75],[0.29,0.0272,0.75],[0.39,0.0291,0.72],[0.26,0.0258,0.78],[-0.13,0.0197,0.9],[0.04,0.0218,0.92],[-0.16,0.017,0.92],[0.59,0.031,0.72]]
const b3pS = [[1.05,0.028,0.03],[1.1,0.026,0.05],[1.0,0.0215,0.05],[0.95,0.0205,0.08],[1.15,0.024,0.05],[1.2,0.0225,0.08],[1.08,0.022,0.1],[1.12,0.029,0.05],[1.2,0.0255,0.1],[1.25,0.03,0.12],[1.3,0.026,0.12],[1.45,0.034,0.15],[1.35,0.028,0.12],[0.85,0.0175,0.25],[0.95,0.016,0.25],[1.0,0.018,0.28],[1.1,0.017,0.28],[1.15,0.021,0.3],[1.2,0.019,0.3],[1.3,0.022,0.3],[1.4,0.015,0.3],[1.45,0.0125,0.32],[1.5,0.02,0.32],[1.55,0.025,0.32],[1.6,0.018,0.34],[1.7,0.0135,0.34],[1.35,0.012,0.3],[1.35,0.015,0.45],[1.5,0.017,0.45],[1.6,0.021,0.45],[1.7,0.019,0.46],[1.8,0.017,0.46],[1.85,0.022,0.48],[1.9,0.021,0.48],[2.0,0.0205,0.48],[2.1,0.0165,0.5],[2.15,0.018,0.5],[2.3,0.023,0.5],[2.4,0.0225,0.5],[2.2,0.014,0.5],[1.75,0.0175,0.6],[1.9,0.018,0.6],[2.0,0.0135,0.6],[2.05,0.015,0.62],[2.15,0.0115,0.62],[2.25,0.0145,0.62],[2.3,0.0195,0.62],[1.95,0.016,0.6],[1.7,0.0155,0.6],[1.3,0.022,0.74],[1.45,0.0235,0.74],[1.55,0.019,0.72],[1.6,0.0165,0.72],[1.65,0.02,0.72],[1.8,0.0195,0.72],[1.85,0.015,0.7],[1.4,0.018,0.74],[2.0,0.012,0.7],[1.15,0.016,0.9],[1.2,0.0135,0.9],[1.25,0.0125,0.9],[1.3,0.011,0.9],[1.35,0.0145,0.9],[1.4,0.0095,0.9],[1.45,0.015,0.88],[1.5,0.011,0.88],[1.55,0.013,0.88],[1.3,0.017,0.92],[1.25,0.0155,0.92]]
const b3dS = [[0.08,0.0128,0.03],[0.1,0.0122,0.05],[0.15,0.011,0.05],[0.17,0.0117,0.08],[0.2,0.0115,0.08],[0.22,0.0107,0.1],[0.27,0.0113,0.1],[0.28,0.0118,0.12],[0.25,0.0103,0.12],[0.12,0.0115,0.05],[0.38,0.0167,0.15],[0.35,0.0148,0.15],[0.3,0.0108,0.28],[0.5,0.0098,0.3],[0.56,0.0128,0.3],[0.6,0.0125,0.32],[0.52,0.0112,0.32],[0.55,0.0105,0.45],[0.65,0.0118,0.45],[0.7,0.0127,0.48],[0.75,0.0105,0.5],[0.78,0.0117,0.5],[0.8,0.0123,0.52],[0.85,0.0107,0.55],[0.9,0.0118,0.55],[0.92,0.011,0.58],[0.5,0.0115,0.45],[0.72,0.0133,0.48],[0.82,0.0128,0.55],[0.7,0.0118,0.68],[0.8,0.0133,0.7],[0.83,0.0152,0.72],[0.87,0.0163,0.72],[0.95,0.013,0.7],[1.0,0.0115,0.68],[0.6,0.0135,0.7],[0.35,0.011,0.72],[-0.08,0.0068,0.78],[0.05,0.0103,0.8],[-0.2,0.0088,0.92],[-0.1,0.0062,0.9],[-0.05,0.0075,0.88],[0.0,0.0093,0.92],[0.05,0.0097,0.92],[0.1,0.0092,0.9],[0.08,0.0087,0.92],[0.17,0.0098,0.9],[0.55,0.0095,0.88],[0.58,0.009,0.9]]
const b3mS = [[-0.23,0.0095,0.93],[0.15,0.0237,0.05],[0.15,0.0124,0.22],[0.4,0.0097,0.78],[0.73,0.0201,0.45],[0.77,0.0277,0.6]]

// ---------- power-law fits c = c0 + A * F^p (null: no fit shown)
const fitExponents = [[1.00, 0.79, 3.39, 1.60], [0.75, 2.11, 1.40, 2.61], [null, null, null, null]]
const fitOffsets = [[0.014, 0.005, 0.006, 0.018], [0.029, 0.016, 0.0098, 0.013]]
const fitAmps = [[0.0242, 0.0351, 0.00203, 0.0076], [0.0354, 0.00856, 0.0089, 0.00307]]
const fitRanges = [[[0, 4.98], [0, 5.55], [0, 3.1], [-0.02, 1.84]], [[0, 1.04], [0, 3.0], [-0.04, 1.26], [0, 4.1]]]

// ---------- axes: domains, ticks, decimals
const traceAxes = [
  [
    { t: [0, 11], tt: [0, 5, 10], td: 0, x: [-26, 220], xt: [0, 100, 200], c: [-0.0063, 0.199], ct: [0, 0.1], cd: 1 },
    { t: [0, 80], tt: [0, 20, 40, 60, 80], td: 0, x: [-48, 269], xt: [0, 100, 200], c: [-0.014, 0.455], ct: [0, 0.2, 0.4], cd: 1 },
    { t: [0, 6], tt: [0, 2, 4, 6], td: 0, x: [-48, 210], xt: [0, 100, 200], c: [0.0028, 0.1163], ct: [0.05, 0.1], cd: 2 },
    { t: [0, 10], tt: [0, 2, 4, 6, 8, 10], td: 0, x: [-25.7, 71], xt: [0, 50], c: [0.0124, 0.0479], ct: [0.02, 0.03, 0.04], cd: 2 }
  ],
  [
    { t: [0, 20], tt: [0, 5, 10, 15, 20], td: 0, x: [-20.7, 36], xt: [-20, 0, 20], c: [0.0199, 0.0894], ct: [0.02, 0.04, 0.06, 0.08], cd: 2 },
    { t: [0, 14], tt: [0, 5, 10], td: 0, x: [-15, 242], xt: [0, 100, 200], c: [-0.0006, 0.1276], ct: [0, 0.05, 0.1], cd: 2 },
    { t: [0, 4], tt: [0, 1, 2, 3, 4], td: 0, x: [-29.2, 81.7], xt: [0, 50], c: [0.0063, 0.0232], ct: [0.01, 0.015, 0.02], cd: 3 },
    { t: [0, 3], tt: [0, 1, 2, 3], td: 0, x: [-29, 290], xt: [0, 100, 200], c: [-0.0043, 0.2138], ct: [0, 0.1, 0.2], cd: 1 }
  ],
  [
    { t: [0, 5], tt: [0, 1, 2, 3, 4, 5], td: 0, x: [-11.7, 29.8], xt: [0, 20], c: [0.0158, 0.0356], ct: [0.02, 0.03], cd: 2 },
    { t: [0, 10], tt: [0, 2, 4, 6, 8, 10], td: 0, x: [19, 107.3], xt: [20, 40, 60, 80, 100], c: [0.0088, 0.0345], ct: [0.01, 0.02, 0.03], cd: 2 },
    { t: [0, 5], tt: [0, 1, 2, 3, 4, 5], td: 0, x: [-33, 61], xt: [0, 50], c: [0.0059, 0.0168], ct: [0.01, 0.015], cd: 3 },
    { t: [0, 0.6], tt: [0, 0.2, 0.4, 0.6], td: 1, x: [-17.4, 46.8], xt: [0, 20, 40], c: [0.0091, 0.028], ct: [0.01, 0.02], cd: 2 }
  ]
]
const scatterAxes = [
  [
    { F: [-1.14, 5.51], Ft: [0, 2, 4], Fd: 0, c: [-0.0165, 0.2103], ct: [0, 0.1, 0.2], cd: 1 },
    { F: [-1.91, 7.67], Ft: [0, 2, 4, 6], Fd: 0, c: [-0.0377, 0.4936], ct: [0, 0.2, 0.4], cd: 1 },
    { F: [-0.604, 3.547], Ft: [0, 1, 2, 3], Fd: 0, c: [-0.0067, 0.1257], ct: [0, 0.05, 0.1], cd: 2 },
    { F: [-0.497, 2.058], Ft: [0, 1, 2], Fd: 0, c: [0.00962, 0.05036], ct: [0.02, 0.04], cd: 2 }
  ],
  [
    { F: [-0.736, 1.18], Ft: [-0.5, 0, 0.5, 1], Fd: 1, c: [0.0144, 0.0934], ct: [0.02, 0.04, 0.06, 0.08], cd: 2 },
    { F: [-0.317, 3.35], Ft: [0, 1, 2, 3], Fd: 0, c: [-0.013, 0.1358], ct: [0, 0.05, 0.1], cd: 2 },
    { F: [-0.371, 1.403], Ft: [0, 0.5, 1], Fd: 1, c: [0.0047, 0.02415], ct: [0.005, 0.01, 0.015, 0.02], cd: 3 },
    { F: [-0.405, 4.81], Ft: [0, 2, 4], Fd: 0, c: [-0.0216, 0.2257], ct: [0, 0.1, 0.2], cd: 1 }
  ],
  [
    { F: [-0.5, 0.967], Ft: [0, 0.5], Fd: 1, c: [0.0137, 0.0372], ct: [0.02, 0.03], cd: 2 },
    { F: [0.695, 2.51], Ft: [1, 1.5, 2, 2.5], Fd: 1, c: [0.00623, 0.0362], ct: [0.01, 0.02, 0.03], cd: 2 },
    { F: [-0.327, 1.083], Ft: [0, 0.5, 1], Fd: 1, c: [0.0048, 0.01768], ct: [0.005, 0.01, 0.015], cd: 3 },
    { F: [-0.339, 0.878], Ft: [0, 0.5], Fd: 1, c: [0.00734, 0.02948], ct: [0.01, 0.015, 0.02, 0.025], cd: 3 }
  ]
]

const traceX = [[b1wtX, b1pX, b1dX, b1mX], [b2wtX, b2pX, b2dX, b2mX], [b3wtX, b3pX, b3dX, b3mX]]
const traceC = [[b1wtC, b1pC, b1dC, b1mC], [b2wtC, b2pC, b2dC, b2mC], [b3wtC, b3pC, b3dC, b3mC]]
const scatters = [[b1wtS, b1pS, b1dS, b1mS], [b2wtS, b2pS, b2dS, b2mS], [b3wtS, b3pS, b3dS, b3mS]]

// ---------- layout
const colLeft = [91.5, 401, 710.8, 1020.7]
const PW = 219.8
const blockTop = [32.3, 556.6, 1080.8]
const xH = 84.7, cOff = 95.5, cH = 85.5, sOff = 244.7, sH = 183.3
const TICK_FS = 19, LABEL_FS = 19

const svg = d3.select('#wrapper').append('svg').attr('width', 1268).attr('height', 1558)
let clipCount = 0

function rich (text, parts, fs) {
  let raised = false
  parts.forEach(([s, style]) => {
    const ts = text.append('tspan').text(s)
    if (style && style.includes('i')) ts.attr('font-style', 'italic')
    if (style && style.includes('s')) {
      ts.attr('font-size', fs * 0.72)
      if (!raised) ts.attr('dy', -fs * 0.42)
      raised = true
    } else if (raised) {
      ts.attr('dy', fs * 0.42)
      raised = false
    }
  })
  return text
}

function label (x, y, parts, fs, rotate) {
  const t = svg.append('text')
    .attr('transform', `translate(${x},${y})` + (rotate ? ' rotate(-90)' : ''))
    .attr('text-anchor', 'middle')
    .attr('font-family', FONT)
    .attr('font-size', fs)
    .attr('fill', '#111')
  return rich(t, parts, fs)
}

function panel (x0, y0, w, h, xDom, yDom) {
  const g = svg.append('g').attr('transform', `translate(${x0},${y0})`)
  const xs = d3.scaleLinear().domain(xDom).range([0, w])
  const ys = d3.scaleLinear().domain(yDom).range([h, 0])
  const id = 'clip' + (clipCount++)
  g.append('clipPath').attr('id', id).append('rect').attr('width', w).attr('height', h)
  const plot = g.append('g').attr('clip-path', `url(#${id})`)
  return { g, xs, ys, plot, w, h }
}

function frame (p, xt, yt, xd, yd, showX) {
  const axes = []
  axes.push(p.g.append('g').attr('transform', `translate(0,${p.h})`)
    .call(d3.axisBottom(p.xs).tickValues(xt).tickSize(-5).tickPadding(4)
      .tickFormat(showX ? d3.format(`.${xd}f`) : '')))
  axes.push(p.g.append('g')
    .call(d3.axisTop(p.xs).tickValues(xt).tickSize(-5).tickFormat('')))
  axes.push(p.g.append('g')
    .call(d3.axisLeft(p.ys).tickValues(yt).tickSize(-5).tickPadding(7).tickFormat(d3.format(`.${yd}f`))))
  axes.push(p.g.append('g').attr('transform', `translate(${p.w},0)`)
    .call(d3.axisRight(p.ys).tickValues(yt).tickSize(-5).tickFormat('')))
  axes.forEach(a => {
    a.select('.domain').remove()
    a.selectAll('.tick line').attr('stroke', '#000').attr('stroke-width', 1)
    a.selectAll('text').attr('font-size', TICK_FS).attr('font-family', FONT).attr('fill', '#222')
  })
  p.g.append('rect').attr('width', p.w).attr('height', p.h)
    .attr('fill', 'none').attr('stroke', '#000').attr('stroke-width', 1.4)
}

function drawTrace (p, data, color) {
  p.plot.append('path').datum(data)
    .attr('d', d3.line().x(d => p.xs(d[0])).y(d => p.ys(d[1])))
    .attr('fill', 'none').attr('stroke', color).attr('stroke-width', 1)
    .attr('stroke-linejoin', 'round')
}

const cLabel = [['c', 'i'], [' (pN nm'], ['\u22121', 's'], [')']]

blockTop.forEach((top, b) => {
  colLeft.forEach((left, k) => {
    const ax = traceAxes[b][k]
    const cx = left + PW / 2

    label(cx, top - 10.5, [['Ndc80'], [titles[k], 's']], LABEL_FS, false)

    // x(t)
    const px = panel(left, top, PW, xH, ax.t, ax.x)
    drawTrace(px, traceX[b][k], lineColors[k])
    frame(px, ax.tt, ax.xt, ax.td, 0, false)

    // c(t)
    const pc = panel(left, top + cOff, PW, cH, ax.t, ax.c)
    drawTrace(pc, traceC[b][k], lineColors[k])
    frame(pc, ax.tt, ax.ct, ax.td, ax.cd, true)
    label(cx, top + cOff + cH + 39, [['t', 'i'], [' (s)']], LABEL_FS, false)

    // c(F) scatter
    const sa = scatterAxes[b][k]
    const ps = panel(left, top + sOff, PW, sH, sa.F, sa.c)
    const p = fitExponents[b][k]
    if (p !== null) {
      const [f0, f1] = fitRanges[b][k]
      const c0 = fitOffsets[b][k], A = fitAmps[b][k]
      const fitPts = d3.range(0, 61).map(i => {
        const F = f0 + (f1 - f0) * i / 60
        return [F, c0 + A * Math.pow(Math.max(F, 0), p)]
      })
      ps.plot.append('path').datum(fitPts)
        .attr('d', d3.line().x(d => ps.xs(d[0])).y(d => ps.ys(d[1])))
        .attr('fill', 'none').attr('stroke', '#808080').attr('stroke-width', 2)
    }
    const r = (b === 2 && k === 3) ? 5 : 2.2
    ps.plot.selectAll('circle').data(scatters[b][k]).join('circle')
      .attr('cx', d => ps.xs(d[0]))
      .attr('cy', d => ps.ys(d[1]))
      .attr('r', r)
      .attr('fill', d => d3.interpolateInferno(d[2]))
    frame(ps, sa.Ft, sa.ct, sa.Fd, sa.cd, true)
    label(cx, top + sOff + sH + 40, [['F', 'i'], [' (pN)']], LABEL_FS, false)

    if (p !== null) {
      const onFirst = b === 0 && k === 0
      const note = ps.g.append('text')
        .attr('x', onFirst ? 13 : 12)
        .attr('y', onFirst ? 75 : 35)
        .attr('font-family', FONT).attr('font-size', 19).attr('fill', '#111')
      rich(note, [['c', 'i'], [' \u223c '], ['F', 'i'], [d3.format('.2f')(p), 's']], 19)
    }

    if (b === 0 && k === 0) {
      // time colour bar
      const grad = svg.append('defs').append('linearGradient').attr('id', 'infernoBar')
      d3.range(0, 11).forEach(i => {
        grad.append('stop').attr('offset', `${i * 10}%`).attr('stop-color', d3.interpolateInferno(i / 10))
      })
      ps.g.append('rect').attr('x', 6.8).attr('y', 8.3).attr('width', 95.7).attr('height', 17)
        .attr('fill', 'url(#infernoBar)').attr('stroke', '#222').attr('stroke-width', 1)
      ps.g.append('text').attr('x', 54.5).attr('y', 43).attr('text-anchor', 'middle')
        .attr('font-family', FONT).attr('font-size', 19).attr('font-style', 'italic').text('t')
    }

    if (k === 0) {
      label(29, top + xH / 2, [['x', 'i'], [' (nm)']], LABEL_FS, true)
      label(29, top + cOff + cH / 2, cLabel, LABEL_FS, true)
      label(29, top + sOff + sH / 2, cLabel, LABEL_FS, true)
    }
  })
})
</script>
</body>
</html>
